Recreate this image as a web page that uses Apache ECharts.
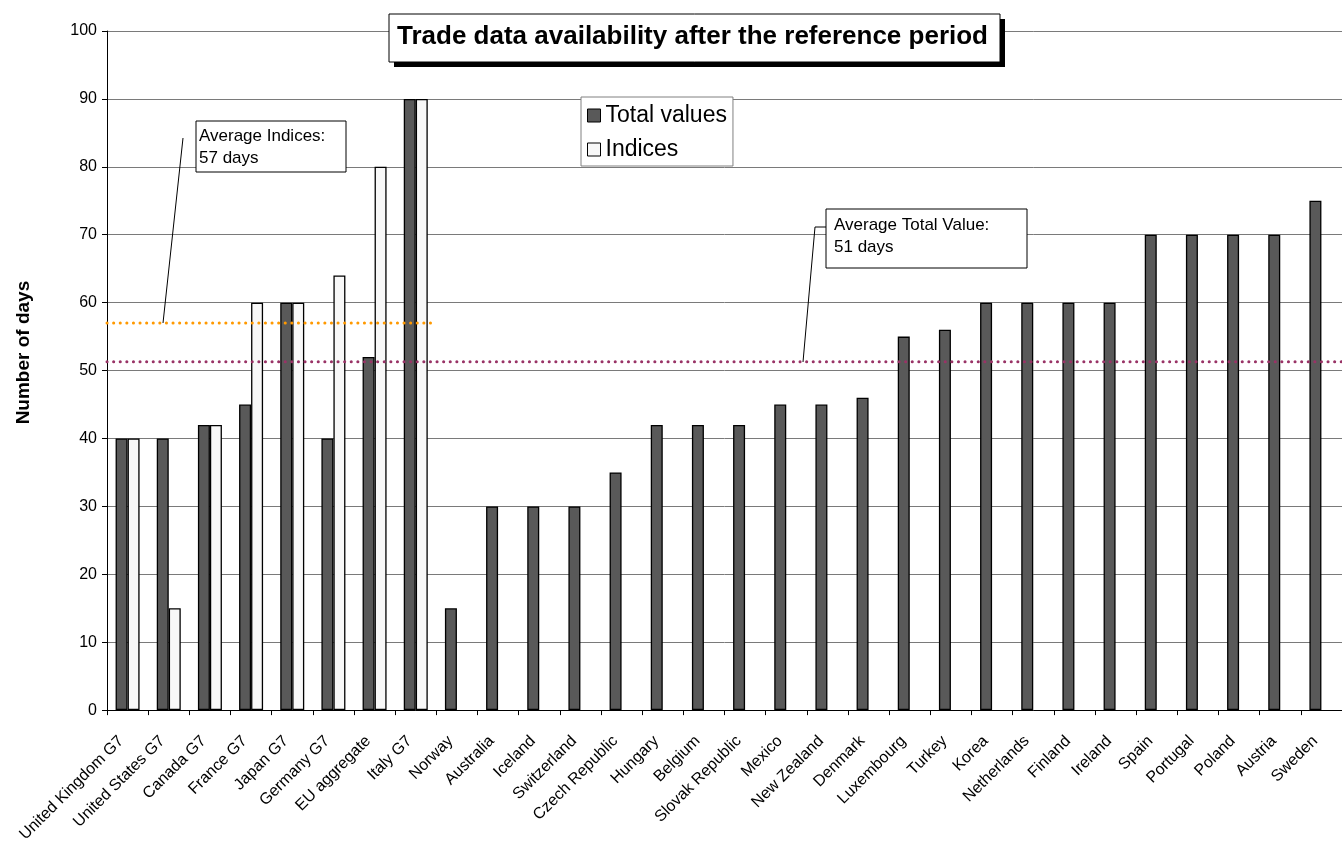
<!DOCTYPE html>
<html>
<head>
<meta charset="utf-8">
<script src="https://cdn.jsdelivr.net/npm/echarts@6/dist/echarts.min.js"></script>
<style>
html,body{margin:0;padding:0;background:#fff;}
#chart{width:1342px;height:845px;}
</style>
</head>
<body>
<div id="chart"></div>
<script>
var categories = ["United Kingdom G7","United States G7","Canada G7","France G7","Japan G7","Germany G7","EU aggregate","Italy G7","Norway","Australia","Iceland","Switzerland","Czech Republic","Hungary","Belgium","Slovak Republic","Mexico","New Zealand","Denmark","Luxembourg","Turkey","Korea","Netherlands","Finland","Ireland","Spain","Portugal","Poland","Austria","Sweden"];
var totalValues = [40,40,42,45,60,40,52,90,15,30,30,30,35,42,42,42,45,45,46,55,56,60,60,60,60,70,70,70,70,75];
var indices = [40,15,42,60,60,64,80,90,null,null,null,null,null,null,null,null,null,null,null,null,null,null,null,null,null,null,null,null,null,null];
var avgIndices = 57;
var avgTotal = 51.3;
var avgIndicesSpan = [0, 7.9];
var avgTotalSpan = [0, 30];

var FONT = '"Liberation Sans", Arial, sans-serif';
var chart = echarts.init(document.getElementById('chart'), null, {renderer:'canvas'});

var option = {
  backgroundColor: '#ffffff',
  animation: false,
  textStyle: {fontFamily: FONT, color: '#000'},
  title: {
    text: 'Trade data availability after the reference period',
    left: 389, top: 14,
    padding: [10, 8, 10, 8],
    textStyle: {fontFamily: FONT, fontSize: 26, fontWeight: 'bold', color: '#000'}
  },
  legend: {
    orient: 'vertical',
    left: 581, top: 97,
    padding: [7, 6, 5, 6],
    itemGap: 11,
    itemWidth: 13, itemHeight: 13,
    backgroundColor: '#ffffff',
    borderColor: '#808080', borderWidth: 1,
    textStyle: {fontFamily: FONT, fontSize: 23, color: '#000'},
    data: [
      {name: 'Total values', icon: 'rect', itemStyle: {color: '#595959', borderColor: '#000', borderWidth: 1}},
      {name: 'Indices', icon: 'rect', itemStyle: {color: '#f8f8f8', borderColor: '#000', borderWidth: 1}}
    ]
  },
  grid: {left: 107, top: 31, width: 1244, bottom: 134, containLabel: false},
  xAxis: [
    {
      type: 'category',
      data: categories,
      boundaryGap: true,
      axisLine: {lineStyle: {color: '#000', width: 1}},
      axisTick: {show: true, length: 5, lineStyle: {color: '#000'}},
      axisLabel: {rotate: 45, fontSize: 16, fontFamily: FONT, color: '#000', interval: 0, margin: 22, padding: [0, 9, 0, 0]},
      splitLine: {show: false}
    },
    {
      type: 'value', min: 0, max: 30, show: false,
      axisLine: {show: false}, splitLine: {show: false}
    }
  ],
  yAxis: {
    type: 'value',
    min: 0, max: 100, interval: 10,
    name: 'Number of days',
    nameLocation: 'middle',
    nameGap: 74,
    nameTextStyle: {fontFamily: FONT, fontSize: 19, fontWeight: 'bold', color: '#000', padding: [0, 0, 0, 36]},
    axisLine: {show: true, lineStyle: {color: '#000', width: 1}},
    axisTick: {show: true, length: 5, lineStyle: {color: '#000'}},
    axisLabel: {fontSize: 16, fontFamily: FONT, color: '#000', margin: 10},
    splitLine: {show: true, lineStyle: {color: '#7a7a7a', width: 1}}
  },
  series: [
    {
      name: 'Total values', type: 'bar', data: totalValues,
      barWidth: 12, barGap: '0%',
      itemStyle: {color: '#595959', borderColor: '#000', borderWidth: 1.3}
    },
    {
      name: 'Indices', type: 'bar', data: indices,
      barWidth: 12, barGap: '0%',
      itemStyle: {color: '#f8f8f8', borderColor: '#000', borderWidth: 1.3}
    },
    {
      name: 'Average Indices', type: 'line', xAxisIndex: 1,
      data: [[avgIndicesSpan[0], avgIndices],[avgIndicesSpan[1], avgIndices]],
      symbol: 'none', silent: true, z: 5,
      lineStyle: {color: '#ff9900', width: 3, type: [0.1, 6.5], cap: 'round'}
    },
    {
      name: 'Average Total Value', type: 'line', xAxisIndex: 1,
      data: [[avgTotalSpan[0], avgTotal],[avgTotalSpan[1], avgTotal]],
      symbol: 'none', silent: true, z: 5,
      lineStyle: {color: '#993366', width: 3, type: [0.1, 6.5], cap: 'round'}
    }
  ],
  graphic: [
    {type: 'rect', shape: {x: 394, y: 19, width: 611, height: 48}, style: {fill: '#000'}, z: 1},
    {type: 'rect', shape: {x: 389, y: 14, width: 611, height: 48}, style: {fill: '#fff', stroke: '#000', lineWidth: 1}, z: 2},
    {type: 'line', shape: {x1: 183, y1: 138, x2: 163, y2: 323}, style: {stroke: '#000', lineWidth: 1}, z: 10},
    {type: 'rect', shape: {x: 196, y: 121, width: 150, height: 51}, style: {fill: '#fff', stroke: '#000', lineWidth: 1}, z: 10},
    {type: 'text', left: 199, top: 125, z: 11, style: {text: 'Average Indices:\n57 days', font: '17px ' + FONT, fill: '#000', lineHeight: 22}},
    {type: 'polyline', shape: {points: [[826, 227],[815, 227],[803, 362]]}, style: {stroke: '#000', lineWidth: 1, fill: null}, z: 10},
    {type: 'rect', shape: {x: 826, y: 209, width: 201, height: 59}, style: {fill: '#fff', stroke: '#000', lineWidth: 1}, z: 10},
    {type: 'text', left: 834, top: 214, z: 11, style: {text: 'Average Total Value:\n51 days', font: '17px ' + FONT, fill: '#000', lineHeight: 22}}
  ]
};
chart.setOption(option);
</script>
</body>
</html>
